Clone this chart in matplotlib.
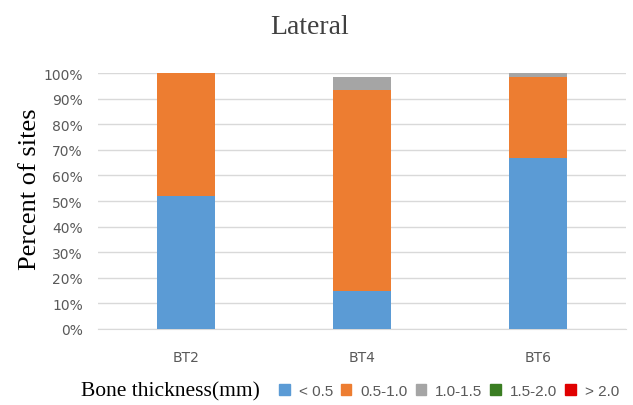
import numpy as np
import matplotlib; matplotlib.use('Agg'); import matplotlib.pyplot as plt
from matplotlib.patches import Patch

cats = ['BT2', 'BT4', 'BT6']
series = ['< 0.5', '0.5-1.0', '1.0-1.5', '1.5-2.0', '> 2.0']
lt05 = [52.0, 15.0, 66.7]
b05_10 = [48.0, 78.3, 31.6]
b10_15 = [0.0, 5.0, 1.7]
b15_20 = [0.0, 0.0, 0.0]
gt20 = [0.0, 0.0, 0.0]
colors = ['#5b9bd5', '#ed7d31', '#a5a5a5', '#3a7d22', '#e00000']

W, H = 633, 406
fig = plt.figure(figsize=(W / 100, H / 100), dpi=100)
# plot area in pixels: x 98..626, y 74..330 (from top)
ax = fig.add_axes([98 / W, 1 - 330 / H, 528 / W, 256 / H])
x = np.arange(len(cats)); bottom = np.zeros(len(cats))
for vals, c in zip([lt05, b05_10, b10_15, b15_20, gt20], colors):
    v = np.array(vals) / 100
    ax.bar(x, v, 0.33, bottom=bottom, color=c, zorder=3)
    bottom += v

ax.set_ylim(0, 1); ax.set_xlim(-0.5, 2.5)
yt = np.arange(0, 1.01, 0.1)
ax.set_yticks(yt); ax.set_yticklabels([f'{int(round(t * 100))}%' for t in yt])
ax.set_xticks(x); ax.set_xticklabels(cats)
ax.tick_params(length=0, labelsize=10, colors='#595959')
ax.tick_params(axis='y', pad=11); ax.tick_params(axis='x', pad=15)
ax.grid(axis='y', color='#d9d9d9', lw=1, zorder=0)
for s in ('top', 'right', 'left'): ax.spines[s].set_visible(False)
ax.spines['bottom'].set_color('#d9d9d9')

fig.text(310 / W, 1 - 28 / H, 'Lateral', family='Liberation Serif', fontsize=20,
         color='#404040', ha='center', va='center')
fig.text(30 / W, 1 - 189 / H, 'Percent of sites', family='Liberation Serif', fontsize=19,
         rotation=90, ha='center', va='center')

fig.text(81 / W, 1 - 392 / H, 'Bone thickness(mm)', family='Liberation Serif', fontsize=15.5, va='center')
handles = [Patch(color=c) for c in colors]
fig.legend(handles, series, loc='center left', bbox_to_anchor=(279 / W, 1 - 392 / H), ncol=5, frameon=False,
           prop={'family': 'Liberation Sans', 'size': 11}, handlelength=0.7, handleheight=0.7,
           handletextpad=0.6, columnspacing=0.5,
           labelcolor='#595959', borderaxespad=0, borderpad=0)
fig.savefig('out.png', dpi=100)
